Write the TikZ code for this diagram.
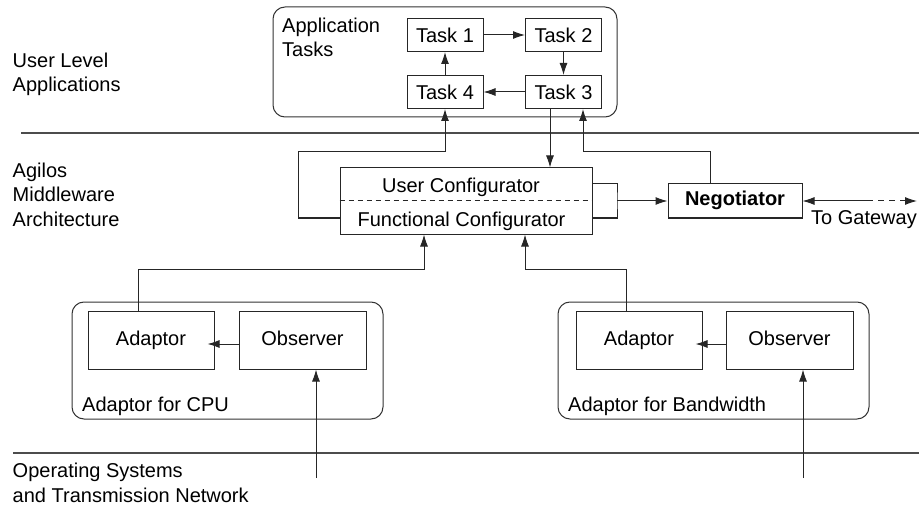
\documentclass[tikz,border=0pt]{standalone}
\usepackage{fontspec}
\setmainfont{Liberation Sans}
\usetikzlibrary{arrows.meta,calc}
\begin{document}
\begin{tikzpicture}[x=1pt,y=-1pt,
  every node/.style={font=\fontsize{20}{24.5}\selectfont, inner sep=0pt},
  box/.style={draw=black!85, line width=1pt, rectangle},
  task/.style={box, minimum width=76pt, minimum height=33pt},
  part/.style={box, minimum width=126pt, minimum height=58pt, text height=14pt, text depth=4pt},
  group/.style={draw=black!80, line width=1pt, rounded corners=12pt, rectangle},
  wire/.style={draw=black!85, line width=1pt},
  tip/.tip={Latex[length=12pt,width=8pt]},
  arr/.style={wire, -tip},
  sep/.style={draw=black!70, line width=1.3pt},
  lbl/.style={anchor=base west, align=left}
]
\useasboundingbox (0,0) rectangle (919,508);

% layer separators
\draw[sep] (21,133) -- (919,133);
\draw[sep] (13,453) -- (919,453);

% layer names (anchored at the baseline of their last line)
\node[lbl] (l1) at (12.5,92) {User Level\\Applications};
\node[lbl] (l2) at (12.5,226) {Agilos\\Middleware\\Architecture};
\node[lbl] (l3) at (12.5,502) {Operating Systems\\and Transmission Network};

% application tasks
\node[group, minimum width=344pt, minimum height=110pt] (apps) at (445,62) {};
\node[lbl] (apt) at (282,57) {Application\\Tasks};
\node[task] (t1) at (445,35) {Task 1};
\node[task] (t2) at (563.5,35) {Task 2};
\node[task] (t4) at (445,92) {Task 4};
\node[task] (t3) at (563.5,92) {Task 3};
\draw[arr] (t1) -- (t2);
\draw[arr] (t2) -- (t3);
\draw[arr] (t3) -- (t4);
\draw[arr] (t4) -- (t1);

% configurator
\node[box, minimum width=252pt, minimum height=66pt] (cfg) at (466,201) {};
\draw[wire, dash pattern=on 5pt off 4pt] (cfg.west) -- (cfg.east);
\node[anchor=base] (ucfg) at (461,193) {User Configurator};
\node[anchor=base] (fcfg) at (461.5,226) {Functional Configurator};

% negotiator
\node[box, minimum width=134pt, minimum height=34pt, text height=14pt, text depth=4pt] (neg) at (735,201) {\bfseries Negotiator};
\coordinate (bk) at (617,201);
\draw[wire] ($(cfg.east)+(0,-17)$) -| (bk) |- ($(cfg.east)+(0,17)$);
\draw[arr] (bk) -- (neg.west);
\coordinate (gwmid) at (867,201);
\coordinate (gw) at (917,201);
\draw[wire, tip-] (neg.east) -- (gwmid);
\draw[wire, dash pattern=on 6pt off 5pt, -tip] (gwmid) -- (gw);
\node[lbl] (gwl) at (811,225) {To Gateway};

% task links through the configurator
\draw[arr] ($(cfg.west)+(0,17)$) -| (298,152) -| (t4.south);
\draw[arr] (t3.south -| 550,0) -- (cfg.north -| 550,0);
\draw[arr] (neg.north -| 710,0) |- (583,152) -- (t3.south -| 583,0);

% adaptor for CPU
\node[group, minimum width=311pt, minimum height=117pt] (cpu) at (227.5,360.5) {};
\node[lbl] (cpul) at (82,411) {Adaptor for CPU};
\node[part] (a1) at (151,340) {Adaptor};
\node[part, minimum width=127pt] (o1) at (302.5,340) {Observer};
\draw[arr, shorten >=-7pt] (o1.west |- 0,344) -- (a1.east |- 0,344);
\coordinate (os1) at (316,478);
\draw[arr] (os1) -- (o1.south -| os1);

% adaptor for bandwidth
\node[group, minimum width=311pt, minimum height=117pt] (bw) at (713.5,360.5) {};
\node[lbl] (bwl) at (568,411) {Adaptor for Bandwidth};
\node[part] (a2) at (639,340) {Adaptor};
\node[part, minimum width=127pt] (o2) at (789.5,340) {Observer};
\draw[arr, shorten >=-7pt] (o2.west |- 0,344) -- (a2.east |- 0,344);
\coordinate (os2) at (803,478);
\draw[arr] (os2) -- (o2.south -| os2);

% adaptors feeding the functional configurator
\draw[arr] (a1.north -| 138,0) |- (424,269) -- (cfg.south -| 424,0);
\draw[arr] (a2.north -| 626,0) |- (525,269) -- (cfg.south -| 525,0);
\end{tikzpicture}
\end{document}
